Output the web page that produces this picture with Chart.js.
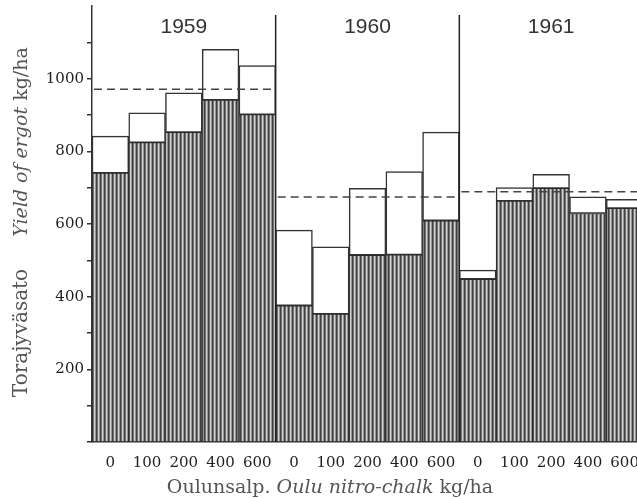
<!DOCTYPE html>
<html>
<head>
<meta charset="utf-8">
<script src="https://cdn.jsdelivr.net/npm/chart.js@4.4.0/dist/chart.umd.min.js"></script>
<style>
  html, body { margin: 0; padding: 0; background: #fff; overflow: hidden; }
  #kuva { display: block; }
</style>
</head>
<body>
<canvas id="kuva" width="643" height="499"></canvas>
<script>
// Vuodet ja typpilannoitus (kg/ha)
const vuodet = ["1959", "1960", "1961"];
const lannoitus = ["0", "100", "200", "400", "600"];

// Tummennettu (alaosa) ja kokonaissato, kg/ha
const alaosa1959 = [740, 824, 852, 941, 901];
const kokonais1959 = [842, 906, 961, 1081, 1036];
const alaosa1960 = [375, 352, 514, 515, 609];
const kokonais1960 = [583, 537, 698, 744, 853];
const alaosa1961 = [448, 663, 698, 629, 643];
const kokonais1961 = [473, 700, 737, 675, 668];

// Vuoden keskiarvot (katkoviiva)
const keskiarvot = [971, 674, 689];

// y-akselin numeroidut arvot
const yNumerot = [200, 400, 600, 800, 1000];

const alaosa = [...alaosa1959, ...alaosa1960, ...alaosa1961];
const kokonais = [...kokonais1959, ...kokonais1960, ...kokonais1961];
const ylaosa = kokonais.map((v, i) => v - alaosa[i]);
const labels = [];
vuodet.forEach(v => lannoitus.forEach(l => labels.push(l)));

// Pystyviivoitus
function viivoitus() {
  const c = document.createElement("canvas");
  c.width = 4; c.height = 4;
  const g = c.getContext("2d");
  const varit = ["#404040", "#727272", "#d2d2d2", "#959595"];
  varit.forEach((col, i) => { g.fillStyle = col; g.fillRect(i, 0, 1, 4); });
  return g.createPattern(c, "repeat");
}

const ctx = document.getElementById("kuva").getContext("2d");

const lisat = {
  id: "lisat",
  afterDatasetsDraw(chart) {
    const { ctx, chartArea: a, scales: { x, y } } = chart;
    const leveys = x.getPixelForValue(1) - x.getPixelForValue(0);
    ctx.save();
    // katkoviivat
    ctx.strokeStyle = "#444";
    ctx.lineWidth = 1.5;
    ctx.setLineDash([8, 5]);
    keskiarvot.forEach((m, i) => {
      const x0 = x.getPixelForValue(i * 5) - leveys / 2;
      const x1 = x.getPixelForValue(i * 5 + 4) + leveys / 2;
      const yy = y.getPixelForValue(m);
      ctx.beginPath(); ctx.moveTo(x0 + 2, yy); ctx.lineTo(x1 - 2, yy); ctx.stroke();
    });
    ctx.setLineDash([]);
    // erotinviivat vuosien välissä
    ctx.strokeStyle = "#222";
    ctx.lineWidth = 1.5;
    [1, 2].forEach(i => {
      const xx = x.getPixelForValue(i * 5) - leveys / 2;
      ctx.beginPath(); ctx.moveTo(xx, y.getPixelForValue(1175)); ctx.lineTo(xx, a.bottom); ctx.stroke();
    });
    // vuosiluvut
    ctx.fillStyle = "#333";
    ctx.font = "21px 'Liberation Sans'";
    ctx.textAlign = "center";
    ctx.textBaseline = "middle";
    vuodet.forEach((v, i) => {
      const xx = (x.getPixelForValue(i * 5) + x.getPixelForValue(i * 5 + 4)) / 2;
      ctx.fillText(v, xx, 27);
    });
    ctx.restore();
  },
  afterDraw(chart) {
    const ctx = chart.ctx;
    ctx.save();
    ctx.fillStyle = "#555";
    ctx.textBaseline = "middle";
    ctx.textAlign = "left";
    // x-akselin otsikko
    const osat = [
      ["Oulunsalp. ", "19px 'DejaVu Serif'"],
      ["Oulu nitro-chalk", "italic 19px 'DejaVu Serif'"],
      [" kg/ha", "19px 'DejaVu Serif'"]
    ];
    let yht = 0;
    osat.forEach(o => { ctx.font = o[1]; yht += ctx.measureText(o[0]).width; });
    let xx = 330 - yht / 2;
    osat.forEach(o => { ctx.font = o[1]; ctx.fillText(o[0], xx, 488); xx += ctx.measureText(o[0]).width; });
    // y-akselin otsikot
    ctx.translate(22, 0);
    ctx.rotate(-Math.PI / 2);
    ctx.font = "20px 'DejaVu Serif'";
    ctx.textAlign = "center";
    ctx.fillText("Torajyväsato", -333, 0);
    ctx.textAlign = "left";
    const osat2 = [
      ["Yield of ergot", "italic 19px 'DejaVu Serif'"],
      [" kg/ha", "19px 'DejaVu Serif'"]
    ];
    yht = 0;
    osat2.forEach(o => { ctx.font = o[1]; yht += ctx.measureText(o[0]).width; });
    xx = -142 - yht / 2;
    osat2.forEach(o => { ctx.font = o[1]; ctx.fillText(o[0], xx, 0); xx += ctx.measureText(o[0]).width; });
    ctx.restore();
  }
};

new Chart(ctx, {
  type: "bar",
  data: {
    labels: labels,
    datasets: [
      {
        label: "alaosa",
        data: alaosa,
        backgroundColor: viivoitus(),
        borderColor: "#2a2a2a",
        borderWidth: 1,
        borderSkipped: "start"
      },
      {
        label: "yläosa",
        data: ylaosa,
        backgroundColor: "#ffffff",
        borderColor: "#333",
        borderWidth: 1.5,
        borderSkipped: false
      }
    ]
  },
  options: {
    responsive: false,
    animation: false,
    devicePixelRatio: 1,
    layout: { padding: { top: 6, left: 0, right: 0, bottom: 0 } },
    datasets: { bar: { categoryPercentage: 1, barPercentage: 1 } },
    plugins: { legend: { display: false }, tooltip: { enabled: false } },
    scales: {
      x: {
        stacked: true,
        grid: { display: false },
        border: { display: true, color: "#333", width: 1.5 },
        ticks: {
          color: "#1e1e1e",
          font: { family: "'DejaVu Serif'", size: 15 },
          maxRotation: 0,
          autoSkip: false,
          padding: 4
        },
        afterFit: s => { s.height = 57; s.paddingLeft = 0; s.paddingRight = 0; }
      },
      y: {
        stacked: true,
        min: 0,
        max: 1200,
        grid: {
          drawOnChartArea: false,
          drawTicks: true,
          tickLength: 5,
          color: "#333",
          tickColor: c => (c.tick && c.tick.value >= 1200) ? "rgba(0,0,0,0)" : "#333",
          lineWidth: 1.5
        },
        border: { display: true, color: "#333", width: 1.5 },
        ticks: {
          stepSize: 100,
          autoSkip: false,
          color: "#1e1e1e",
          font: { family: "'DejaVu Serif'", size: 15 },
          padding: 3,
          callback: v => yNumerot.includes(Math.round(v)) ? String(Math.round(v)) : ""
        },
        afterFit: s => { s.width = 92; s.paddingTop = 0; s.paddingBottom = 0; }
      }
    }
  },
  plugins: [lisat]
});
</script>
</body>
</html>
